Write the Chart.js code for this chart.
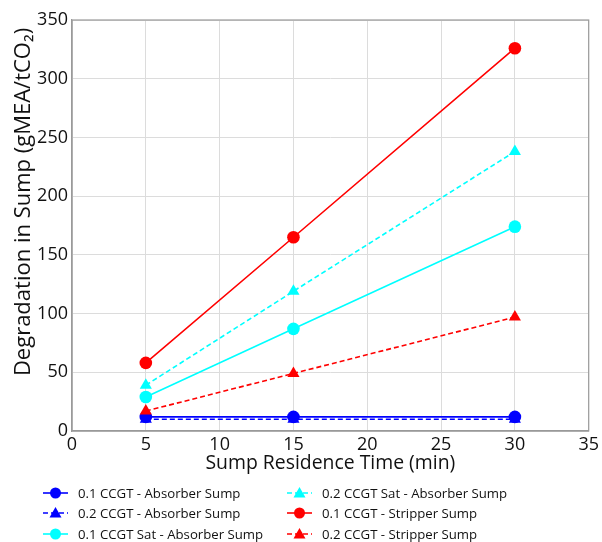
<!DOCTYPE html>
<html>
<head>
<meta charset="utf-8">
<script src="https://cdn.jsdelivr.net/npm/chart.js@4.4.1/dist/chart.umd.min.js"></script>
<style>
  body { margin: 0; background: #fff; }
  #chartContainer { width: 602px; height: 542px; }
</style>
</head>
<body>
<div id="chartContainer"><canvas id="myChart" width="602" height="542"></canvas></div>
<script>
// data
const times = [5, 15, 30];
const xTicks = [0, 5, 10, 15, 20, 25, 30, 35];
const yTicks = [0, 50, 100, 150, 200, 250, 300, 350];

const absorber01 = [12, 12, 12];
const absorber02 = [10, 10, 10];
const satAbsorber01 = [29, 87, 174];
const satAbsorber02 = [39, 119, 238];
const stripper01 = [58, 165, 326];
const stripper02 = [17, 49, 97];

const seriesLabels = [
  '0.1 CCGT - Absorber Sump',
  '0.2 CCGT - Absorber Sump',
  '0.1 CCGT Sat - Absorber Sump',
  '0.2 CCGT Sat - Absorber Sump',
  '0.1 CCGT - Stripper Sump',
  '0.2 CCGT - Stripper Sump'
];
const yTitle = 'Degradation in Sump (gMEA/tCO\u2082)';

const FONT = "'Open Sans', sans-serif";

function pts(vals) {
  return vals.map((v, i) => ({ x: times[i], y: v }));
}

function makeSet(i, vals, color, dashed) {
  return {
    label: seriesLabels[i],
    data: pts(vals),
    borderColor: color,
    backgroundColor: color,
    borderWidth: 1.6,
    borderDash: dashed ? [5, 3] : [],
    pointStyle: dashed ? 'triangle' : 'circle',
    pointRadius: dashed ? 7 : 6.3,
    pointBorderWidth: 0,
    pointHoverRadius: 6,
    order: 6 - i
  };
}

// frame around the plot, y title, legend in two columns
const framePlugin = {
  id: 'frame',
  afterDraw(chart) {
    const ctx = chart.ctx;
    const a = chart.chartArea;
    ctx.save();
    ctx.strokeStyle = '#9a9a9a';
    ctx.lineWidth = 1.2;
    ctx.strokeRect(a.left, a.top, a.right - a.left, a.bottom - a.top);

    // y axis title: in the original it runs from about y=12 to y=392
    ctx.save();
    ctx.font = '20px ' + FONT;
    let size = 20 * 378 / ctx.measureText(yTitle).width;
    size = Math.min(22, Math.max(18, size));
    ctx.font = size.toFixed(1) + 'px ' + FONT;
    ctx.translate(24, 202);
    ctx.rotate(-Math.PI / 2);
    ctx.fillStyle = '#111';
    ctx.textAlign = 'center';
    ctx.textBaseline = 'middle';
    ctx.fillText(yTitle, 0, 0);
    ctx.restore();

    // legend
    const cols = [43, 287];
    const rows = [493, 513, 534];
    ctx.font = '13.2px ' + FONT;
    ctx.textBaseline = 'middle';
    ctx.textAlign = 'left';
    chart.data.datasets.forEach((ds, i) => {
      const cx = cols[Math.floor(i / 3)];
      const cy = rows[i % 3];
      ctx.strokeStyle = ds.borderColor;
      ctx.fillStyle = ds.borderColor;
      ctx.lineWidth = 1.6;
      ctx.setLineDash(ds.borderDash);
      ctx.beginPath();
      ctx.moveTo(cx, cy);
      ctx.lineTo(cx + 25, cy);
      ctx.stroke();
      ctx.setLineDash([]);
      const mx = cx + 12.5;
      ctx.beginPath();
      if (ds.pointStyle === 'triangle') {
        ctx.moveTo(mx, cy - 6);
        ctx.lineTo(mx + 6, cy + 4.5);
        ctx.lineTo(mx - 6, cy + 4.5);
        ctx.closePath();
      } else {
        ctx.arc(mx, cy, 5.5, 0, Math.PI * 2);
      }
      ctx.fill();
      ctx.fillStyle = '#111';
      ctx.fillText(ds.label, cx + 35, cy + 1);
    });
    ctx.restore();
  }
};

const ctx = document.getElementById('myChart').getContext('2d');

const degChart = new Chart(ctx, {
  type: 'line',
  data: {
    datasets: [
      makeSet(0, absorber01, '#0000ff', false),
      makeSet(1, absorber02, '#0000ff', true),
      makeSet(2, satAbsorber01, '#00ffff', false),
      makeSet(3, satAbsorber02, '#00ffff', true),
      makeSet(4, stripper01, '#ff0000', false),
      makeSet(5, stripper02, '#ff0000', true)
    ]
  },
  options: {
    responsive: false,
    animation: false,
    layout: { padding: { top: 20, right: 11, bottom: 67, left: 0 } },
    plugins: {
      legend: { display: false },
      tooltip: { enabled: false }
    },
    scales: {
      x: {
        type: 'linear',
        min: 0,
        max: 35,
        afterBuildTicks: s => { s.ticks = xTicks.map(v => ({ value: v })); },
        afterFit: s => { s.height = 44; },
        grid: { color: '#dcdcdc', drawTicks: false },
        border: { color: '#9a9a9a', width: 1.2 },
        ticks: { color: '#111', font: { family: FONT, size: 18 }, padding: 3 },
        title: {
          display: true,
          text: 'Sump Residence Time (min)',
          color: '#111',
          font: { family: FONT, size: 19.4 },
          padding: { top: 0, bottom: 0 }
        }
      },
      y: {
        min: 0,
        max: 350,
        afterBuildTicks: s => { s.ticks = yTicks.map(v => ({ value: v })); },
        afterFit: s => { s.width = 72; },
        grid: { color: '#dcdcdc', drawTicks: false },
        border: { color: '#9a9a9a', width: 1.2 },
        ticks: { color: '#111', font: { family: FONT, size: 18 }, padding: 4 },
        title: { display: false }
      }
    }
  },
  plugins: [framePlugin]
});
</script>
</body>
</html>
